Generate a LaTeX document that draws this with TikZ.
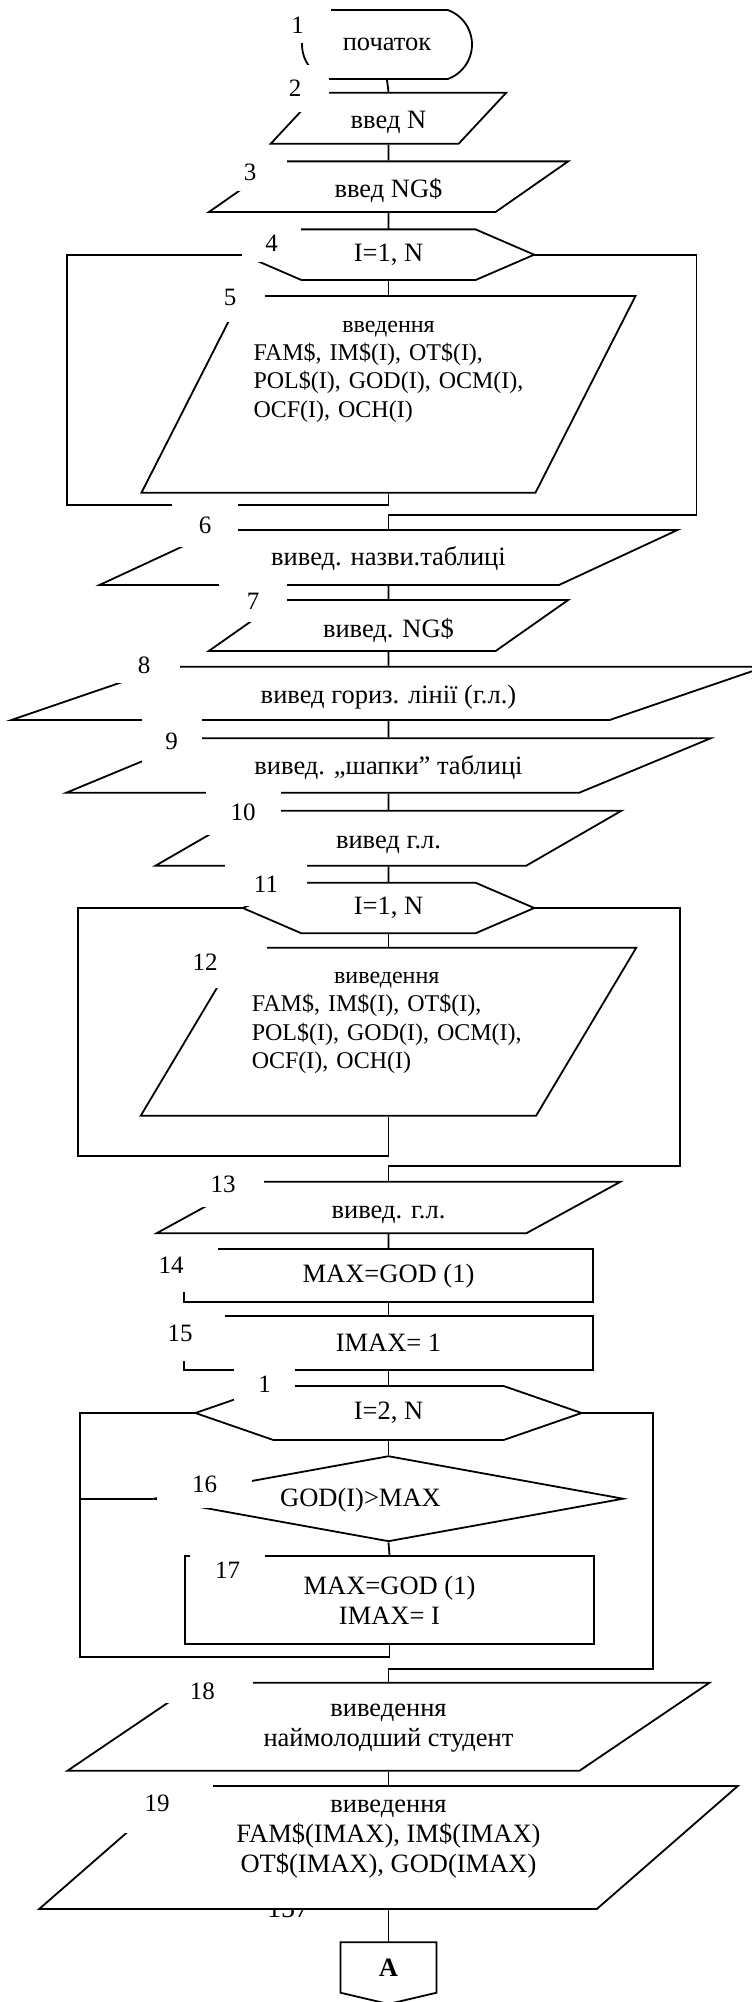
\documentclass[tikz,border=0pt]{standalone}
\usepackage{fontspec}
\setmainfont{Liberation Serif}
\usetikzlibrary{shapes.geometric,shapes.misc}

\begin{document}
\begin{tikzpicture}[x=1pt, y=-1pt, line width=1.8pt,
    font=\fontsize{26.5}{30}\selectfont,
    term/.style={rounded rectangle, rounded rectangle arc length=140, draw, fill=white, inner sep=0pt},
    io/.style 2 args={trapezium, trapezium left angle=#1, trapezium right angle=#2, trapezium stretches body, draw, fill=white, inner sep=0pt},
    proc/.style={rectangle, draw, fill=white, inner sep=0pt, align=center},
    cond/.style={diamond, aspect=5.5, draw, fill=white, inner sep=0pt},
    body/.style={rectangle, inner sep=0pt, outer sep=0pt, align=center},
    small/.style={font=\fontsize{24}{28.4}\selectfont, inner sep=0pt, text width=270pt, align=left},
    num/.style={fill=white, inner sep=0pt, font=\fontsize{25}{30}\selectfont}]

\useasboundingbox (0,0) rectangle (752,2002);

% page number, mostly hidden under the last block
\node[font=\fontsize{28}{30}\selectfont] (pagenum) at (288,1908) {157};

\node[term, minimum width=170pt, minimum height=69pt] (start) at (387,44.5) {початок};
\node[io={47}{133}, minimum width=235.5pt, text height=35.5pt, text depth=15.5pt] (readn) at (388.5,118.2) {введ N};
\node[io={34.9}{145.1}, minimum width=359.4pt, text height=36.15pt, text depth=14.55pt] (readng) at (388.5,186.7) {введ NG\$};
\node[body, minimum width=174pt, minimum height=50.7pt] (loopin) at (388.5,254.7) {I=1, N};
\draw (loopin.north west) -- (loopin.north east) -- ([xshift=58.7pt]loopin.east) coordinate (loopin_e)
  -- (loopin.south east) -- (loopin.south west) -- ([xshift=-58.7pt]loopin.west) coordinate (loopin_w) -- cycle;
\node[io={63.05}{116.95}, minimum width=494pt, text height=196.7pt, text depth=0pt] (readrec) at (388.5,394.3) {};
\node[io={24.9}{155.1}, minimum width=578pt, text height=35.5pt, text depth=19.5pt] (title) at (388.5,557.5) {вивед. назви.таблиці};
\node[io={35.1}{144.9}, minimum width=359.4pt, text height=37.5pt, text depth=13.5pt] (group) at (388.5,625.5) {вивед. NG\$};
\node[io={18.9}{161.1}, minimum width=754pt, text height=36.85pt, text depth=16.45pt] (hline) at (388.5,693.3) {вивед гориз. лінії (г.л.)};
\node[io={22.5}{157.5}, minimum width=644.3pt, text height=35.9pt, text depth=18.5pt] (header) at (388.5,765.5) {вивед. „шапки” таблиці};
\node[io={30}{150}, minimum width=466pt, text height=37.5pt, text depth=17.5pt] (hlinetwo) at (388.5,838.2) {вивед г.л.};
\node[body, minimum width=174pt, minimum height=50.6pt] (loopout) at (388.5,908) {I=1, N};
\draw (loopout.north west) -- (loopout.north east) -- ([xshift=58.7pt]loopout.east) coordinate (loopout_e)
  -- (loopout.south east) -- (loopout.south west) -- ([xshift=-58.7pt]loopout.west) coordinate (loopout_w) -- cycle;
\node[io={59.2}{120.8}, minimum width=495.5pt, text height=168pt, text depth=0pt] (outrec) at (388.5,1031.7) {};
\node[io={28.7}{151.3}, minimum width=464pt, text height=36.5pt, text depth=15.1pt] (hlineend) at (388.5,1207.5) {вивед. г.л.};
\node[proc, minimum width=408.3pt, minimum height=53.3pt] (setmax) at (388.5,1275.7) {MAX=GOD (1)};
\node[proc, minimum width=408.3pt, minimum height=54pt] (setimax) at (388.5,1343) {IMAX= 1};
\node[body, minimum width=230.2pt, minimum height=54pt] (loopmax) at (388.5,1413) {I=2, N};
\draw (loopmax.north west) -- (loopmax.north east) -- ([xshift=78pt]loopmax.east) coordinate (loopmax_e)
  -- (loopmax.south east) -- (loopmax.south west) -- ([xshift=-78pt]loopmax.west) coordinate (loopmax_w) -- cycle;
\node[cond, minimum width=470pt, minimum height=85.7pt] (test) at (388.5,1498.7) {};
\node[proc, minimum width=408.3pt, minimum height=88.3pt] (update) at (389.5,1600.2) {MAX=GOD (1)\\IMAX= I};
\node[io={34.1}{145.9}, minimum width=642pt, text height=88pt, text depth=0pt] (youngest) at (388.5,1726.7) {};
\node[io={41.1}{138.9}, minimum width=698.6pt, text height=123pt, text depth=0pt] (outmax) at (388.5,1847.5) {};
\node[body, minimum width=96pt, minimum height=50.4pt, font=\fontsize{26.5}{30}\selectfont\bfseries] (pageA) at (388.5,1967.5) {A};
\draw (pageA.north west) -- (pageA.north east) -- (pageA.south east) -- ([yshift=-11.3pt]pageA.south) -- (pageA.south west) -- cycle;

% texts set on their own over the blocks
\node[small] (readrec_text) at (388.5,371.5) {\makebox[\linewidth]{введення}\\FAM\$, IM\$(I), OT\$(I),\\POL\$(I), GOD(I), OCM(I),\\OCF(I), OCH(I)};
\node[small] (outrec_text) at (386.8,1022.7) {\makebox[\linewidth]{виведення}\\FAM\$, IM\$(I), OT\$(I),\\POL\$(I), GOD(I), OCM(I),\\OCF(I), OCH(I)};
\node[inner sep=0pt] (test_text) at (360.5,1500) {GOD(I)>MAX};
\node[inner sep=0pt, align=center] (youngest_text) at (388.5,1728) {виведення\\наймолодший студент};
\node[inner sep=0pt, align=center] (outmax_text) at (388.5,1839) {виведення\\FAM\$(IMAX), IM\$(IMAX)\\OT\$(IMAX), GOD(IMAX)};

\draw (start.south) -- (readn.north);
\draw (readn.south) -- (readng.north);
\draw (readng.south) -- (loopin.north);
\draw (loopin.south) -- (readrec.north);
\draw (title.south) -- (group.north);
\draw (group.south) -- (hline.north);
\draw (hline.south) -- (header.north);
\draw (header.south) -- (hlinetwo.north);
\draw (hlinetwo.south) -- (loopout.north);
\draw (loopout.south) -- (outrec.north);
\draw (hlineend.south) -- (setmax.north);
\draw (setmax.south) -- (setimax.north);
\draw (setimax.south) -- (loopmax.north);
\draw (loopmax.south) -- (test.north);
\draw (test.south) -- (update.north);
\draw (youngest.south) -- (outmax.north);
\draw (outmax.south) -- (pageA.north);

% loop returns and exits
\coordinate (loopin_l) at (67,505);
\coordinate (loopin_r) at (696.4,515);
\draw (loopin_w) -| (loopin_l) -| (readrec.south);
\draw (loopin_e) -| (loopin_r) -| (title.north);
\coordinate (loopout_l) at (77.7,1156);
\coordinate (loopout_r) at (680,1166);
\draw (loopout_w) -| (loopout_l) -| (outrec.south);
\draw (loopout_e) -| (loopout_r) -| (hlineend.north);
\coordinate (loopmax_l) at (80,1656.7);
\coordinate (loopmax_r) at (653,1669);
\draw (loopmax_w) -| (loopmax_l) -| (update.south);
\draw (loopmax_e) -| (loopmax_r) -| (youngest.north);
\draw (test.west) -- (test.west -| loopmax_l);

% block numbers
\node[num, minimum width=67pt, minimum height=35pt] (num1) at (297.5,25.5) {1};
\node[num, minimum width=68pt, minimum height=47pt] (num2) at (295,88.5) {2};
\node[num, minimum width=74pt, minimum height=38pt] (num3) at (250,172) {3};
\node[num, minimum width=59pt, minimum height=38pt] (num4) at (271.5,243) {4};
\node[num, minimum width=70pt, minimum height=50pt] (num5) at (230,297) {5};
\node[num, minimum width=66pt, minimum height=44pt] (num6) at (205,525) {6};
\node[num, minimum width=68pt, minimum height=42pt] (num7) at (253,601) {7};
\node[num, minimum width=72pt, minimum height=36pt] (num8) at (144,665) {8};
\node[num, minimum width=60pt, minimum height=46pt] (num9) at (171.5,741) {9};
\node[num, minimum width=75pt, minimum height=45pt] (num10) at (243,812.5) {10};
\node[num, minimum width=82pt, minimum height=43pt] (num11) at (266,884) {11};
\node[num, minimum width=124pt, minimum height=52pt] (num12) at (205,962) {12};
\node[num, minimum width=82pt, minimum height=45pt] (num13) at (223,1184.5) {13};
\node[num, minimum width=94pt, minimum height=54pt] (num14) at (171,1265) {14};
\node[num, minimum width=89pt, minimum height=55pt] (num15) at (180,1333.5) {15};
\node[num, minimum width=61pt, minimum height=36pt] (numloop) at (264.5,1384) {1};
\node[num, minimum width=95pt, minimum height=48pt] (num16) at (204.5,1484) {16};
\node[num, minimum width=75pt, minimum height=40pt] (num17) at (227.5,1570) {17};
\node[num, minimum width=101pt, minimum height=24pt] (num18) at (202.4,1691) {18};
\node[num, minimum width=111pt, minimum height=60pt] (num19) at (157,1803.3) {19};

\end{tikzpicture}
\end{document}
